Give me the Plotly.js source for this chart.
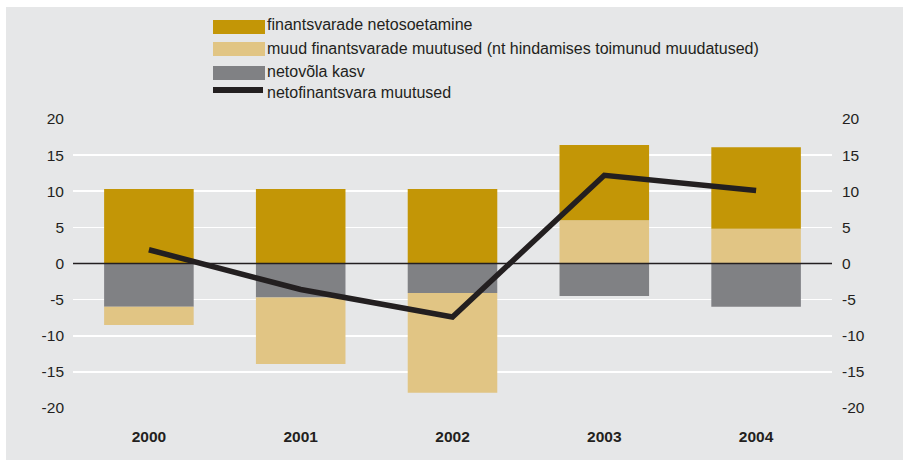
<!DOCTYPE html>
<html>
<head>
<meta charset="utf-8">
<script src="https://cdn.plot.ly/plotly-3.0.1.min.js"></script>
<style>html,body{margin:0;padding:0;background:#fff;}#chart{width:903px;height:460px;}</style>
</head>
<body>
<div id="chart"></div>
<script>
// ---- data ----
const years = ['2000', '2001', '2002', '2003', '2004'];
const seriesNames = [
  'finantsvarade netosoetamine',
  'muud finantsvarade muutused (nt hindamises toimunud muudatused)',
  'netovõla kasv',
  'netofinantsvara muutused'
];
const netosoetamine = [10.3, 10.3, 10.3, 10.4, 11.3];
const muudMuutused = [-2.5, -9.2, -13.8, 6.0, 4.8];
const netovolaKasv = [-6.0, -4.7, -4.1, -4.5, -6.0];
const netofinantsvara = [1.9, -3.6, -7.4, 12.2, 10.1];
const yTicks = [-20, -15, -10, -5, 0, 5, 10, 15, 20];

// ---- style ----
const colors = ['#c39606', '#e1c584', '#808184', '#231f20'];
const W = 903, H = 460;
const M = {l: 73, r: 71, t: 119, b: 52};
const pw = W - M.l - M.r, ph = H - M.t - M.b;
const px = x => (x - M.l) / pw;
const py = y => (H - M.b - y) / ph;
const font = 'Liberation Sans, Arial, Helvetica, sans-serif';

const traces = [
  {type: 'bar', x: years, y: netovolaKasv, name: seriesNames[2], marker: {color: colors[2]}, hoverinfo: 'skip'},
  {type: 'bar', x: years, y: muudMuutused, name: seriesNames[1], marker: {color: colors[1]}, hoverinfo: 'skip'},
  {type: 'bar', x: years, y: netosoetamine, name: seriesNames[0], marker: {color: colors[0]}, hoverinfo: 'skip'},
  {type: 'scatter', mode: 'lines', x: years, y: netofinantsvara, name: seriesNames[3], yaxis: 'y2',
   line: {color: colors[3], width: 5.5}, hoverinfo: 'skip'}
];

const shapes = [
  {type: 'rect', xref: 'paper', yref: 'paper', x0: px(6), x1: px(905), y0: py(7), y1: py(462),
   fillcolor: '#e6e7e8', line: {width: 0}, layer: 'below'},
  {type: 'line', xref: 'paper', yref: 'y', x0: 0, x1: 1, y0: 0, y1: 0,
   line: {color: '#231f20', width: 1.6}, layer: 'above'}
];
const annotations = [];
const swatchRows = [27, 49, 73, 90];
const textRows = [25, 48, 72, 93];
for (let i = 0; i < 4; i++) {
  if (i < 3) {
    shapes.push({type: 'rect', xref: 'paper', yref: 'paper', x0: px(213), x1: px(265),
      y0: py(swatchRows[i] + 7), y1: py(swatchRows[i] - 7), fillcolor: colors[i], line: {width: 0}});
  } else {
    shapes.push({type: 'rect', xref: 'paper', yref: 'paper', x0: px(213), x1: px(263),
      y0: py(swatchRows[i] + 3), y1: py(swatchRows[i] - 3), fillcolor: colors[i], line: {width: 0}});
  }
  annotations.push({xref: 'paper', yref: 'paper', x: px(265), y: py(textRows[i]), xanchor: 'left', yanchor: 'middle',
    text: seriesNames[i], showarrow: false, font: {family: font, size: 16, color: '#231f20'}});
}

const yax = {
  range: [-20, 20], tickvals: yTicks, ticktext: yTicks.map(String), showgrid: true, gridcolor: '#ffffff', gridwidth: 1.6,
  zeroline: false, showline: false, ticks: '', ticklabelstandoff: 8,
  tickfont: {family: font, size: 15.5, color: '#231f20'}, fixedrange: true
};

const layout = {
  width: W, height: H,
  margin: M,
  paper_bgcolor: '#ffffff', plot_bgcolor: 'rgba(0,0,0,0)',
  barmode: 'relative', bargap: 0.41,
  showlegend: false,
  xaxis: {type: 'category', showgrid: false, zeroline: false, showline: false, ticks: '',
    ticklabelstandoff: 17, tickfont: {family: font, size: 15.5, color: '#231f20', weight: 'bold'}},
  yaxis: yax,
  yaxis2: Object.assign({}, yax, {overlaying: 'y', side: 'right', showgrid: false, ticklabelstandoff: 9}),
  shapes: shapes,
  annotations: annotations
};

Plotly.newPlot('chart', traces, layout, {staticPlot: true});
</script>
</body>
</html>
